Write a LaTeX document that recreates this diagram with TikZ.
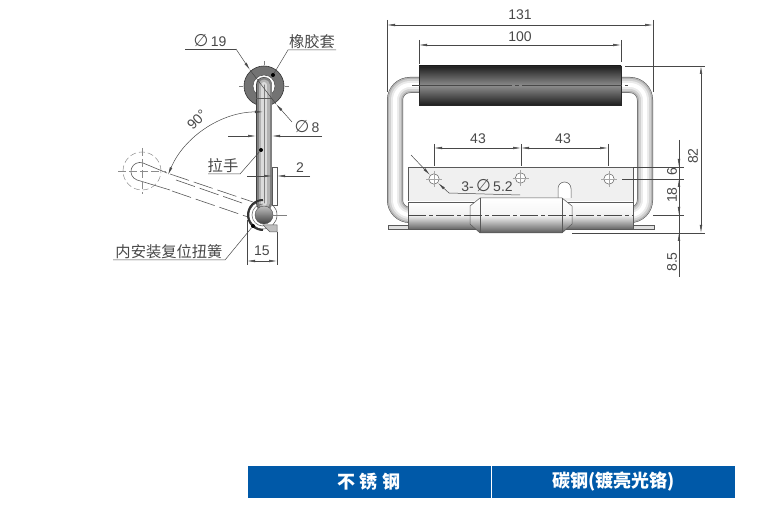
\documentclass[tikz,border=0pt]{standalone}
\usepackage{fontspec}
\setmainfont{Liberation Sans}
\newfontfamily\cjk{Noto Sans CJK SC}
\newfontfamily\symfont{DejaVu Sans}
\usetikzlibrary{arrows.meta}
\definecolor{dimgray}{HTML}{484848}
\definecolor{barblue}{HTML}{0059A8}
\tikzset{
  dimline/.style={draw=dimgray, line width=.5pt},
  dimarrow/.style={dimline, {Latex[length=8pt,width=2.6pt]}-{Latex[length=8pt,width=2.6pt]}},
  endarrow/.style={dimline, -{Latex[length=8pt,width=2.6pt]}},
  dimtext/.style={text=dimgray, inner sep=0pt, font=\fontsize{14}{16}\selectfont},
  cjktext/.style={text=dimgray, inner sep=0pt, font=\cjk\fontsize{15.3}{17}\selectfont},
  outline/.style={draw=black!65, line width=.5pt},
  dotnode/.style={circle, fill=black, inner sep=0pt, minimum size=4pt},
  barcell/.style={fill=barblue, draw=none, minimum height=32pt, inner sep=0pt, text=white,
    font=\cjk\bfseries\fontsize{18}{20}\selectfont},
}
\newcommand{\dia}{{\symfont\fontsize{17}{17}\selectfont ∅}}
\begin{document}
\begin{tikzpicture}[x=1pt,y=-1pt]
  \useasboundingbox (0,0) rectangle (764,516);

  % right view: tube
  \foreach \w/\c in {16/black!65, 15/black!30, 12/black!18, 8/black!8, 4/white}{
    \draw[line width=\w pt, draw=\c, rounded corners=15pt] (420,85) -- (395,85) -- (395,215) -- (412,215);
    \draw[line width=\w pt, draw=\c, rounded corners=15pt] (620,85) -- (645,85) -- (645,215) -- (628,215);
  }
  % right view: feet, plate, hinge
  \draw[outline, fill=black!12] (388,225) rectangle (408,229);
  \draw[outline, fill=black!12] (633,225) rectangle (654,229);
  \draw[outline, fill=black!6] (408,167) rectangle (633,203);
  \shade[top color=white, bottom color=black!60, middle color=black!6, draw=black!65, line width=.5pt]
    (408,202) rectangle (633,229);
  \draw[outline, fill=white] (558,198) -- (558,188.5) arc[start angle=180, end angle=360, radius=6.5] -- (571,198);
  \shade[top color=white, bottom color=black!65, middle color=black!4, draw=black!65, line width=.5pt]
    (470,206) -- (480,198) -- (562,198) -- (572,206) -- (572,224) -- (562,233) -- (480,233) -- (470,224) -- cycle;
  \draw[outline] (480,198) -- (480,233);
  \draw[outline] (562,198) -- (562,233);
  % right view: roller
  \shade[top color=black!88, bottom color=black!88, middle color=black!45, draw=black!85, line width=.5pt]
    (419,66) rectangle (621,105);
  \draw[dimline, dash pattern=on 100pt off 3pt on 4pt off 3pt] (412,85) -- (628,85);
  \draw[dimline, dash pattern=on 18pt off 3pt on 4pt off 3pt] (408,215) -- (633,215);
  % right view: holes
  \foreach \hx/\hy in {434/179, 520.5/178, 609/179}{
    \draw[outline, fill=white] (\hx,\hy) circle (5.2pt);
    \draw[black!35, line width=.4pt] (\hx-8,\hy) -- (\hx+8,\hy);
    \draw[black!35, line width=.4pt] (\hx,\hy-8) -- (\hx,\hy+8);
  }

  % right view: dimensions
  \coordinate (a1) at (387,25);
  \coordinate (a2) at (653,25);
  \coordinate (b1) at (419,45);
  \coordinate (b2) at (621,45);
  \coordinate (c1) at (434,148);
  \coordinate (c2) at (521,148);
  \coordinate (c3) at (608,148);
  \coordinate (h1) at (701,66);
  \coordinate (h2) at (701,233);
  \draw[dimarrow] (a1) -- (a2);
  \draw[dimarrow] (b1) -- (b2);
  \draw[dimarrow] (c1) -- (c2);
  \draw[dimarrow] (c2) -- (c3);
  \draw[dimarrow] (h1) -- (h2);
  \draw[dimline] (387,20) -- (387,92);
  \draw[dimline] (653,20) -- (653,92);
  \draw[dimline] (419,40) -- (419,64);
  \draw[dimline] (621,40) -- (621,62);
  \draw[dimline] (c1) ++(0,-4) -- (434,166);
  \draw[dimline] (c2) ++(0,-4) -- (521,166);
  \draw[dimline] (c3) ++(0,-4) -- (608,166);
  \draw[dimline] (625,66) -- (705,66);
  \draw[dimline] (572,233) -- (705,233);
  \draw[dimline] (633,167) -- (684,167);
  \draw[dimline] (622,179) -- (684,179);
  \draw[dimline] (653,215) -- (684,215);
  \draw[dimline] (679,140) -- (679,277);
  \coordinate (s1) at (679,167);
  \coordinate (s2) at (679,179);
  \coordinate (s3) at (679,215);
  \coordinate (s4) at (679,233);
  \draw[endarrow] (679,153) -- (s1);
  \draw[endarrow] (679,193) -- (s2);
  \draw[endarrow] (679,200) -- (s3);
  \draw[endarrow] (679,250) -- (s4);
  \node[dimtext] (t131) at (520,15) {131};
  \node[dimtext] (t100) at (520,37) {100};
  \node[dimtext] (t43a) at (478,139) {43};
  \node[dimtext] (t43b) at (563,139) {43};
  \node[dimtext, rotate=90] (t82) at (693,156) {82};
  \node[dimtext, rotate=90] (t6) at (672,172) {6};
  \node[dimtext, rotate=90] (t18) at (672,195) {18};
  \node[dimtext, rotate=90] (t85) at (672,262) {8.5};
  \node[dimtext] (t52) at (487,186) {3-\,\dia\,5.2};
  \coordinate (p1) at (411,155);
  \coordinate (p2) at (449,193);
  \coordinate (p3) at (520,195);
  \coordinate (q1) at (430,175);
  \coordinate (q2) at (438,183);
  \draw[dimline] (p2) -- (p3);
  \draw[endarrow] (p1) -- (q1);
  \draw[endarrow] (p2) -- (q2);

  % left view: folded position
  \draw[black!45, line width=.5pt, dash pattern=on 6pt off 3pt] (142,171) circle (19pt);
  \draw[outline, line width=.6pt] (167,173) -- (143,163) arc[start angle=290, end angle=110, radius=9] -- (170,190);
  \foreach \ax/\ay/\bx/\by in {170/174/253/202, 172/191/248/217, 176/180/245/204}{
    \draw[outline, line width=.6pt, dash pattern=on 20pt off 5pt] (\ax,\ay) -- (\bx,\by);
  }
  \draw[black!45, line width=.4pt, dash pattern=on 8pt off 3pt] (118,171) -- (166,171);
  \draw[black!45, line width=.4pt, dash pattern=on 8pt off 3pt] (142,148) -- (142,194);

  % left view: rubber sleeve, bar and hinge
  \draw[black!80, fill=black!55, line width=.6pt] (264,86) circle (20pt);
  \draw[black!70, fill=white, line width=.5pt] (264,86) circle (11pt);
  \draw[black!70, fill=white, line width=.5pt] (263,215) circle (14pt);
  \foreach \w/\c in {16/black!75, 15/black!50, 11/black!30, 6/black!14, 1/black!50}{
    \draw[line width=\w pt, draw=\c, line cap=round] (264,85) -- (264,203);
  }
  \draw[outline] (256,98) -- (272,98);
  \draw[outline, fill=white] (272.5,167) rectangle (277,205);
  \draw[black!80, line width=2pt] (263,200) arc[start angle=270, end angle=90, radius=15];
  \draw[black!55, line width=.6pt] (263,204) arc[start angle=270, end angle=90, radius=11];
  \shade[top color=black!25, bottom color=black!75, draw=black!70, line width=.4pt] (264,215) circle (9pt);
  \draw[outline, fill=black!25] (263,225) -- (277,225) -- (277,232) -- (270,232) -- cycle;
  \draw[black!50, line width=.4pt] (272,215) -- (287,215);
  \foreach \tx/\ty/\ux/\uy in {264/61/264/65, 264/107/264/111, 239/86/243/86, 285/86/289/86}{
    \draw[black!50, line width=.4pt] (\tx,\ty) -- (\ux,\uy);
  }

  % left view: dimensions and leaders
  \coordinate (r1) at (185,49);
  \coordinate (r2) at (236,49);
  \coordinate (r3) at (250,70);
  \coordinate (r4) at (292,122);
  \coordinate (r5) at (276,104);
  \draw[dimline] (r1) -- (r2);
  \draw[endarrow] (r2) -- (r3);
  \draw[endarrow] (r4) -- (r5);
  \draw[dimline] (r3) -- (r5);
  \node[dimtext] (t19) at (210,41) {\dia\,19};
  \node[dimtext] (t8) at (307,127) {\dia\,8};
  \coordinate (w1) at (228,136);
  \coordinate (w2) at (256,136);
  \coordinate (w3) at (272,136);
  \coordinate (w4) at (322,136);
  \draw[endarrow] (w1) -- (w2);
  \draw[endarrow] (w4) -- (w3);
  \coordinate (e1) at (247,176);
  \coordinate (e2) at (272,176);
  \coordinate (e3) at (277,176);
  \coordinate (e4) at (310,176);
  \draw[endarrow] (e1) -- (e2);
  \draw[endarrow] (e4) -- (e3);
  \node[dimtext] (t2) at (300,168) {2};
  \node[dimtext] (t15) at (262,251) {15};
  \coordinate (f1) at (247,261);
  \coordinate (f2) at (277,261);
  \draw[dimarrow] (f1) -- (f2);
  \draw[dimline] (247,220) -- (247,265);
  \draw[dimline] (277,232) -- (277,265);
  \draw[dimarrow] (168,175) arc[start angle=202.8, end angle=270, radius=103];
  \node[dimtext, rotate=45] (t90) at (197,120) {90°};

  \node[dotnode] (dsleeve) at (273,75) {};
  \node[dotnode] (dbar) at (261,150) {};
  \node[dotnode] (dspring) at (253,226) {};
  \coordinate (l1) at (288,50);
  \coordinate (l2) at (336,50);
  \coordinate (l3) at (240,174);
  \coordinate (l4) at (208,174);
  \coordinate (l5) at (225,260);
  \coordinate (l6) at (113,260);
  \draw[dimline] (dsleeve) -- (l1) -- (l2);
  \draw[dimline] (dbar) -- (l3) -- (l4);
  \draw[dimline] (dspring) -- (l5) -- (l6);
  \node[cjktext] (tsleeve) at (312,42) {橡胶套};
  \node[cjktext] (tbar) at (223,166) {拉手};
  \node[cjktext] (tspring) at (169,252) {内安装复位扭簧};

  % material bar
  \node[barcell, minimum width=243pt] (cell1) at (369,482) {不 锈 钢};
  \node[barcell, minimum width=243.5pt] (cell2) at (613.25,482) {碳钢(镀亮光铬)};
\end{tikzpicture}
\end{document}
